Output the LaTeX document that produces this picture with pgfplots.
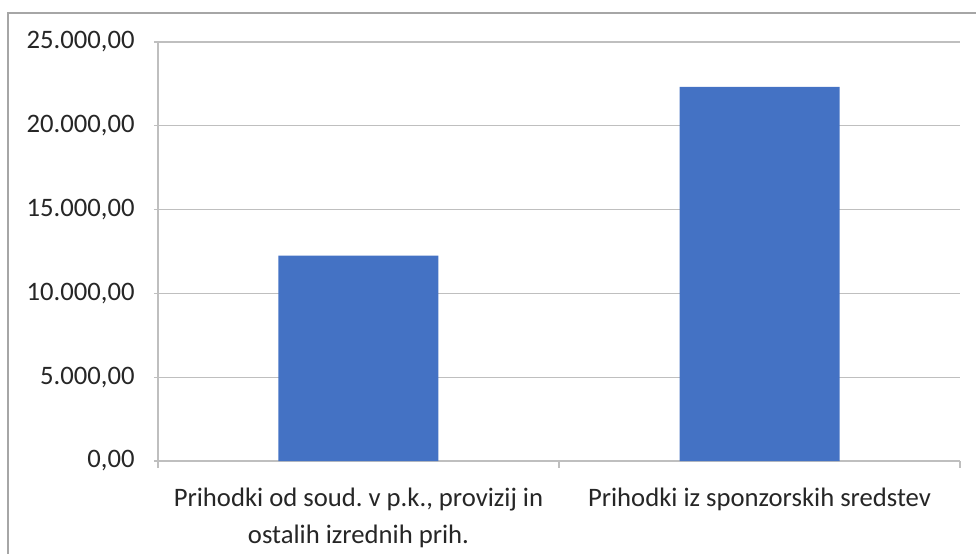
\documentclass[border=0pt]{standalone}
\usepackage{pgfplots}
\pgfplotsset{compat=1.18}
\usepackage{fontspec}
\setmainfont{Carlito}
\frenchspacing
\definecolor{barblue}{HTML}{4472C4}
\definecolor{gridgray}{HTML}{BFBFBF}
\definecolor{framegray}{HTML}{A6A6A6}
\definecolor{txt}{HTML}{262626}

% 1 px of the reference = 0.75pt
\begin{document}
\begin{tikzpicture}
\useasboundingbox (0pt,0pt) rectangle (732pt,-415.5pt);
\draw[framegray, line width=1.2pt] (6pt,-415.5pt) -- (6pt,-9.75pt) -- (732pt,-9.75pt);
\begin{axis}[
    at={(118.5pt,-345.75pt)}, anchor=south west,
    scale only axis,
    width=601.5pt, height=314.25pt,
    xmin=-0.5, xmax=1.5,
    ymin=0, ymax=25000,
    ytick={0,5000,...,25000},
    xtick={0,1},
    xticklabels={{Prihodki od soud.\ v p.k., provizij in\\ostalih izrednih prih.}, {Prihodki iz sponzorskih sredstev}},
    minor xtick={-0.5,0.5,1.5},
    major x tick style={draw=none},
    minor x tick style={gridgray, line width=0.9pt},
    y tick style={gridgray, line width=0.9pt},
    tick align=outside,
    major tick length=6pt,
    minor tick length=5pt,
    axis x line=bottom, axis y line=left,
    axis line style={gridgray, line width=0.9pt, -},
    ymajorgrids,
    grid style={gridgray, line width=0.9pt},
    scaled y ticks=false,
    /pgf/number format/assume math mode=true,
    yticklabel={\pgfmathprintnumber[fixed, fixed zerofill, precision=2, use comma, 1000 sep={.}]{\tick}},
    ticklabel style={font=\fontsize{20}{27.75}\selectfont, text=txt},
    yticklabel style={xshift=-11pt},
    xticklabel style={align=center, yshift=-10.5pt},
    ybar, bar width=120pt,
    clip=false,
]
\addplot[fill=barblue, draw=none] coordinates {(0,12260) (1,22330)};
\end{axis}
\end{tikzpicture}
\end{document}
